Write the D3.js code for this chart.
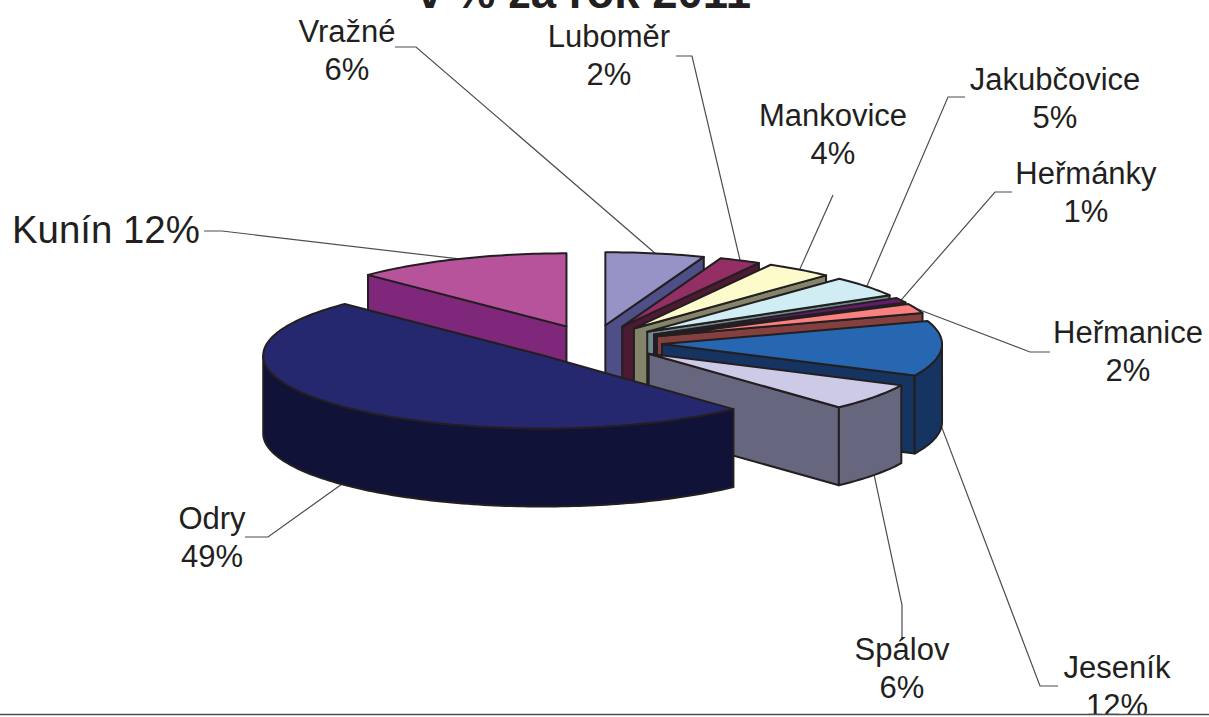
<!DOCTYPE html>
<meta charset="utf-8">
<style>
  body { margin: 0; background: #fff; }
  text { font-family: "Liberation Sans", sans-serif; fill: #231f20; }
</style>
<script src="https://d3js.org/d3.v7.min.js"></script>

<div id="chart"></div>
<script>

    // data, clockwise from 12 o'clock
    var names = ["Vražné", "Luboměr", "Mankovice", "Jakubčovice", "Heřmánky", "Heřmanice", "Jeseník", "Spálov", "Odry", "Kunín"];
    var values = [5.7, 2.4, 3.9, 4.6, 1.1, 2.1, 12.2, 6.0, 49.2, 12.5];
    var percentLabels = ["6%", "2%", "4%", "5%", "1%", "2%", "12%", "6%", "49%", "12%"];
    var chartTitle = "v % za rok 2011";

    var topColors = ["#9694c6", "#932f65", "#fdfacc", "#d0edf3", "#661a6e", "#fb8080", "#2767b2", "#cdcae8", "#25286f", "#b7539b"];
    var sideColors = ["#4f4f87", "#4c1a33", "#84846a", "#6f8a8c", "#33103a", "#84403f", "#163461", "#67667f", "#111238", "#7f277b"];

    // where each label sits and where its leader line bends
    var labelLayout = [
      {x: 347, y: 42, bend: [[395, 47], [416, 47]]},
      {x: 609, y: 47, bend: [[676, 56], [692, 56]]},
      {x: 833, y: 126, bend: [[833, 195]]},
      {x: 1055, y: 90, bend: [[965, 97], [948, 97]]},
      {x: 1086, y: 184, bend: [[1012, 192], [995, 192]]},
      {x: 1128, y: 343, bend: [[1050, 352], [1030, 352]]},
      {x: 1117, y: 678, bend: [[1058, 686], [1040, 686]]},
      {x: 902, y: 660, bend: [[902, 640], [902, 605]]},
      {x: 212, y: 529, bend: [[245, 537], [268, 537]]},
      {x: 12, y: 243, bend: [[204, 231], [222, 231]], inline: true}
    ];

    var width = 1209, height = 717;
    var cx = 593, cy = 343;      // pie centre before explosion
    var rx = 280, ry = 73;       // top ellipse
    var depth = 78;
    var explode = 0.247;
    var outline = "#231f20";

    var svg = d3.select("#chart")
      .append("svg")
        .attr("width", width)
        .attr("height", height)
        .style("display", "block");

    var pie = d3.pie().sort(null).value(function(d) { return d.value; });
    var arcs = pie(names.map(function(n, i) { return {name: n, value: values[i]}; }));

    var line = d3.line().curve(d3.curveLinear);

    // apex of a slice after pulling it out along its mid angle
    function apex(a) {
      var mid = (a.startAngle + a.endAngle) / 2;
      return [cx + explode * rx * Math.sin(mid), cy - explode * ry * Math.cos(mid)];
    }

    function rim(a, angle, drop) {
      var p = apex(a);
      return [p[0] + rx * Math.sin(angle), p[1] - ry * Math.cos(angle) + (drop || 0)];
    }

    function arcPoints(a, from, to, drop) {
      var n = Math.max(2, Math.ceil((to - from) / 0.02));
      return d3.range(n + 1).map(function(i) {
        return rim(a, from + (to - from) * i / n, drop);
      });
    }

    // leader lines go under the slices
    var leaders = svg.append("g");
    var slices = svg.append("g");

    // Kunín at the back, then clockwise, Odry on top
    var order = [arcs[9]].concat(arcs.slice(0, 9));

    order.forEach(function(a) {
      var i = a.index;
      var g = slices.append("g");
      var p = apex(a);

      function face(pts) {
        g.append("path")
          .attr("d", line(pts) + "Z")
          .attr("fill", sideColors[i])
          .attr("stroke", outline)
          .attr("stroke-width", 2)
          .attr("stroke-linejoin", "round");
      }

      // cut edges
      if (Math.sin(a.startAngle) < 0) {
        var s = rim(a, a.startAngle);
        face([p, s, [s[0], s[1] + depth], [p[0], p[1] + depth]]);
      }
      if (Math.sin(a.endAngle) > 0) {
        var e = rim(a, a.endAngle);
        face([p, e, [e[0], e[1] + depth], [p[0], p[1] + depth]]);
      }

      // outer wall, only the part facing the viewer
      var from = Math.max(a.startAngle, Math.PI / 2);
      var to = Math.min(a.endAngle, Math.PI * 1.5);
      if (to > from) {
        face(arcPoints(a, from, to, 0).concat(arcPoints(a, from, to, depth).reverse()));
      }

      // top
      g.append("path")
        .attr("d", line([p].concat(arcPoints(a, a.startAngle, a.endAngle, 0))) + "Z")
        .attr("fill", topColors[i])
        .attr("stroke", outline)
        .attr("stroke-width", 2)
        .attr("stroke-linejoin", "round");
    });

    // leaders end on the rim at the slice mid angle
    arcs.forEach(function(a) {
      var i = a.index;
      var mid = (a.startAngle + a.endAngle) / 2;
      var drop = Math.cos(mid) < 0 ? depth : 0;
      var pts = labelLayout[i].bend.concat([rim(a, mid, drop)]);
      leaders.append("path")
        .attr("d", line(pts))
        .attr("fill", "none")
        .attr("stroke", "#4d4d4f")
        .attr("stroke-width", 1.2);
    });

    // labels
    names.forEach(function(n, i) {
      var l = labelLayout[i];
      if (l.inline) {
        svg.append("text")
          .attr("x", l.x)
          .attr("y", l.y)
          .attr("font-size", "38.4px")
          .text(n + " " + percentLabels[i]);
        return;
      }
      var t = svg.append("text")
        .attr("text-anchor", "middle")
        .attr("font-size", "31px");
      t.append("tspan").attr("x", l.x).attr("y", l.y).text(n);
      t.append("tspan").attr("x", l.x).attr("y", l.y + 38).text(percentLabels[i]);
    });

    svg.append("text")
      .attr("x", 584)
      .attr("y", 8)
      .attr("text-anchor", "middle")
      .attr("font-size", "45.5px")
      .attr("font-weight", "bold")
      .text(chartTitle);

    // rule along the bottom of the page, the last label is cut off by it
    svg.append("rect")
      .attr("x", 0)
      .attr("y", 714)
      .attr("width", width)
      .attr("height", 3)
      .attr("fill", "#fff");
    svg.append("line")
      .attr("x1", 0)
      .attr("x2", width)
      .attr("y1", 714.5)
      .attr("y2", 714.5)
      .attr("stroke", "#4d4d4f")
      .attr("stroke-width", 1.5);

</script>
